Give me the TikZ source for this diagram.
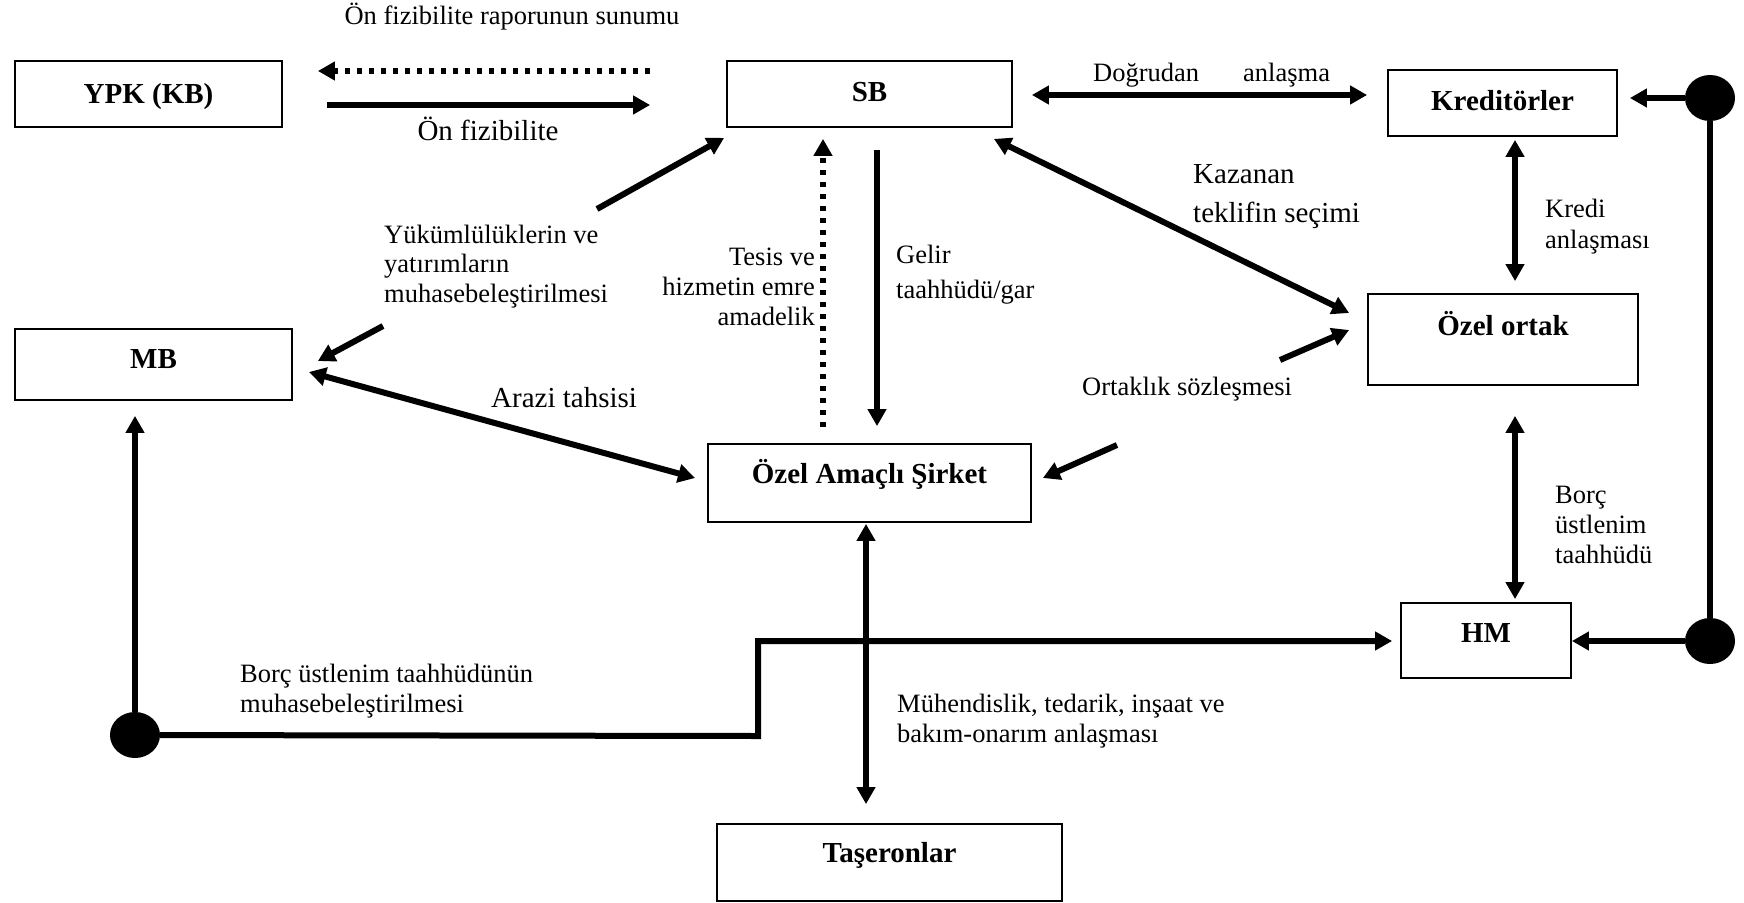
\documentclass[tikz,border=0pt]{standalone}
\usepackage{fontspec}
\setmainfont{Liberation Serif}
\usetikzlibrary{arrows.meta,calc,shapes.geometric}

\begin{document}
\begin{tikzpicture}[x=1pt,y=-1pt,
  box/.style={draw, line width=1.8pt, inner sep=0pt,
    font=\fontsize{29}{34}\selectfont\bfseries, text height=19pt},
  lbl/.style={inner sep=0pt, font=\fontsize{26.5}{30}\selectfont, align=left},
  biglbl/.style={inner sep=0pt, font=\fontsize{29}{39}\selectfont, align=left},
  arr/.style={line width=6pt, -{Triangle[length=17pt,width=18pt]}},
  dbl/.style={line width=6pt, {Triangle[length=17pt,width=18pt]}-{Triangle[length=17pt,width=18pt]}},
  dotarr/.style={arr, dash pattern=on 5pt off 7pt},
  plain/.style={line width=6pt},
  blob/.style={ellipse, fill, inner sep=0pt, minimum width=50pt, minimum height=46pt}
]
\useasboundingbox (0,0) rectangle (1744,902);

% actors
\node[box, minimum width=267pt, minimum height=66pt, text depth=0pt] (ypk) at (148.5,94) {YPK (KB)};
\node[box, minimum width=285pt, minimum height=66pt, text depth=5pt] (sb) at (869.5,94) {SB};
\node[box, minimum width=229pt, minimum height=66pt, text depth=5pt] (kred) at (1502.5,103) {Kreditörler};
\node[box, minimum width=277pt, minimum height=71pt, text depth=12pt] (mb) at (153.5,364.5) {MB};
\node[box, minimum width=270pt, minimum height=91pt, text depth=28pt] (ozel) at (1503,339.5) {Özel ortak};
\node[box, minimum width=323pt, minimum height=78pt, text depth=19pt] (oas) at (869.5,483) {Özel Amaçlı Şirket};
\node[box, minimum width=170pt, minimum height=75pt, text depth=16pt] (hm) at (1486,640.5) {HM};
\node[box, minimum width=345pt, minimum height=77pt, text depth=20pt] (tas) at (889.5,862.5) {Taşeronlar};

% junction dots
\node[blob] (d1) at (1710,98) {};
\node[blob] (d2) at (1710,641) {};
\node[blob] (d3) at (135,735) {};

% helper points
\coordinate (rowA) at (0,71);
\coordinate (rowB) at (0,105);
\coordinate (rowD) at (0,95);
\coordinate (ykA) at (383,326);
\coordinate (ykB) at (597,209);
\coordinate (ortA) at (1117,445);
\coordinate (ortB) at (1280,360);
\coordinate (stepA) at (758,736);
\coordinate (stepB) at (758,641);

% feasibility exchange
\draw[dotarr, shorten <=76pt, shorten >=35pt] (sb.west |- rowA) -- (ypk.east |- rowA);
\draw[arr, shorten <=44pt, shorten >=76pt] (ypk.east |- rowB) -- (sb.west |- rowB);

% SB relations
\draw[dbl, shorten <=19pt, shorten >=20pt] (sb.east |- rowD) -- (kred.west |- rowD);
\draw[dotarr, shorten <=16pt, shorten >=11pt] ([xshift=-46.5pt]oas.north) -- ([xshift=-46.5pt]oas.north |- sb.south);
\draw[arr, shorten <=22pt, shorten >=17pt] ([xshift=7.5pt]sb.south) -- ([xshift=7.5pt]sb.south |- oas.north);
\draw[dbl] ($(sb.south east)+(-19,11)$) -- ($(ozel.west)+(-18,-26.5)$);
\draw[arr] (ykA) -- ($(mb.east)+(25,-3.5)$);
\draw[arr] (ykB) -- ($(sb.south west)+(-2,10)$);

% MB and SPV
\draw[dbl] ($(mb.east)+(16,7.5)$) -- ($(oas.west)+(-12,-5)$);
\draw[arr] (ortA) -- ($(oas.east)+(11,-5)$);
\draw[arr] (ortB) -- ($(ozel.west)+(-18,-9.5)$);
\draw[dbl, shorten <=1pt, shorten >=19pt] ([xshift=-3.5pt]oas.south) -- ([xshift=-3.5pt]oas.south |- tas.north);

% lenders and guarantees
\draw[dbl, shorten <=3pt, shorten >=12pt] ([xshift=12.5pt]kred.south) -- ([xshift=12.5pt]kred.south |- ozel.north);
\draw[dbl, shorten <=30pt, shorten >=3pt] ([xshift=12pt]ozel.south) -- ([xshift=12pt]ozel.south |- hm.north);
\draw[plain] (d1) -- (d2);
\draw[arr, shorten >=12pt] (d1) -- (d1 -| kred.east);
\draw[arr] (d2) -- (d2 -| hm.east);
\draw[arr, shorten >=15pt] (d3) -- (d3 |- mb.south);
\draw[arr, shorten >=8pt] (d3) -- (stepA) -- (stepB) -- (hm.west |- stepB);

% labels (multi-line nodes are placed by the baseline of their last line)
\node[lbl, anchor=base] (t1) at (512,24) {Ön fizibilite raporunun sunumu};
\node[biglbl, anchor=base] (t2) at (488,140) {Ön fizibilite};
\node[lbl, anchor=base west] (t3) at (1093,81) {Doğrudan\hspace{44pt}anlaşma};
\node[biglbl, anchor=base west] (t4) at (1193,222) {Kazanan\\teklifin seçimi};
\node[lbl, anchor=base west, font=\fontsize{26.5}{31}\selectfont] (t5) at (1545,248) {Kredi\\anlaşması};
\node[lbl, anchor=base west] (t6) at (1555,563) {Borç\\üstlenim\\taahhüdü};
\node[lbl, anchor=base east, align=right] (t7) at (815,325) {Tesis ve\\hizmetin emre\\amadelik};
\node[lbl, anchor=base west, font=\fontsize{26.5}{35}\selectfont] (t8) at (896,298) {Gelir\\taahhüdü/gar};
\node[lbl, anchor=base west] (t9) at (1082,395) {Ortaklık sözleşmesi};
\node[lbl, anchor=base west, font=\fontsize{26.5}{29.5}\selectfont] (t10) at (384,302) {Yükümlülüklerin ve\\yatırımların\\muhasebeleştirilmesi};
\node[biglbl, anchor=base west] (t11) at (491,407) {Arazi tahsisi};
\node[lbl, anchor=base west] (t12) at (240,712) {Borç üstlenim taahhüdünün\\muhasebeleştirilmesi};
\node[lbl, anchor=base west] (t13) at (897,742) {Mühendislik, tedarik, inşaat ve\\bakım-onarım anlaşması};
\end{tikzpicture}
\end{document}
